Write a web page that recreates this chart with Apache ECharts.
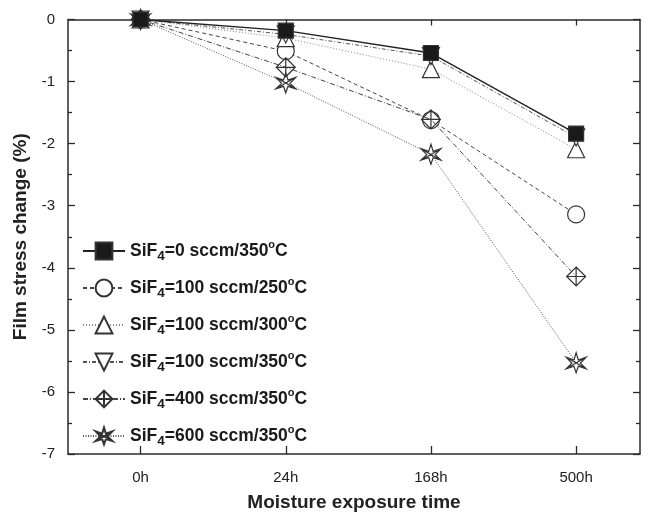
<!DOCTYPE html>
<html><head><meta charset="utf-8">
<script src="https://cdn.jsdelivr.net/npm/echarts@6/dist/echarts.min.js"></script>
<style>html,body{margin:0;padding:0;background:#fff}#c{width:653px;height:517px}</style>
</head><body><div id="c"></div>
<script>
const categories = ['0h', '24h', '168h', '500h'];
const seriesNames = ['SiF4=0 sccm/350°C', 'SiF4=100 sccm/250°C', 'SiF4=100 sccm/300°C', 'SiF4=100 sccm/350°C', 'SiF4=400 sccm/350°C', 'SiF4=600 sccm/350°C'];
const s0 = [0, -0.18, -0.54, -1.84];
const s100_250 = [0, -0.51, -1.62, -3.14];
const s100_300 = [0, -0.30, -0.80, -2.09];
const s100_350 = [0, -0.24, -0.59, -1.90];
const s400 = [0, -0.77, -1.61, -4.14];
const s600 = [0, -1.02, -2.17, -5.53];
const yTicks = [0, -1, -2, -3, -4, -5, -6, -7];

const dataSets = [s0, s100_250, s100_300, s100_350, s400, s600];
const INK = '#2b2b2b';
const styles = [
  {symbol: 'rect', size: 15, fill: '#1a1a1a', line: {color: '#222', width: 1.4, type: 'solid'}, z: 10},
  {symbol: 'circle', size: 17, fill: '#fff', line: {color: '#444', width: 1, type: [4, 3]}, z: 3},
  {symbol: 'triangle', size: 17, fill: '#fff', line: {color: '#888', width: 1, type: [1, 2]}, z: 4},
  {symbol: 'path://M-1,-0.9L1,-0.9L0,0.9Z', size: 17, fill: '#fff', line: {color: '#555', width: 1, type: [4, 2, 1, 2]}, z: 5},
  {symbol: 'path://M0,-1L1,0L0,1L-1,0Z M0,-1L0,1 M-1,0L1,0', size: 19, fill: 'rgba(255,255,255,0)', line: {color: '#444', width: 1, type: [5, 2, 1, 2]}, z: 6},
  {symbol: 'path://M0,-1L0.2,-0.28L0.9,-0.55L0.38,0.05L0.9,0.6L0.2,0.35L0,1L-0.2,0.35L-0.9,0.6L-0.38,0.05L-0.9,-0.55L-0.2,-0.28Z M-0.9,-0.55L0.9,0.6 M0.9,-0.55L-0.9,0.6', size: 20, fill: 'rgba(255,255,255,0)', line: {color: '#555', width: 1, type: [1, 1.5]}, z: 7}
];

const series = dataSets.map((d, i) => ({
  name: seriesNames[i],
  type: 'line',
  data: d.map((v, j) => [j, v]),
  symbol: styles[i].symbol,
  symbolSize: styles[i].size,
  showAllSymbol: true,
  z: styles[i].z,
  lineStyle: styles[i].line,
  itemStyle: {color: styles[i].fill, borderColor: '#333', borderWidth: 1.2, opacity: 1},
  emphasis: {disabled: true},
  animation: false
}));

const FONT = '"Liberation Sans", Arial, sans-serif';
const axisLine = {show: true, onZero: false, lineStyle: {color: INK, width: 1.5}};
const chart = echarts.init(document.getElementById('c'), null, {renderer: 'canvas'});
chart.setOption({
  animation: false,
  backgroundColor: '#fff',
  grid: {left: 68, right: 13, top: 19.5, bottom: 59, containLabel: false},
  xAxis: [{
    type: 'value', min: -0.5, max: 3.44, position: 'bottom',
    axisLine: axisLine, splitLine: {show: false},
    axisTick: {show: true, inside: true, length: 8, customValues: [0, 1, 2, 3], lineStyle: {color: INK, width: 1.3}},
    axisLabel: {customValues: [0, 1, 2, 3], formatter: v => categories[Math.round(v)], color: '#222', fontSize: 15, fontFamily: FONT, margin: 16},
    name: 'Moisture exposure time', nameLocation: 'middle', nameGap: 39,
    nameTextStyle: {fontSize: 19, fontWeight: 'bold', color: '#222', fontFamily: FONT}
  }, {
    type: 'value', min: -0.5, max: 3.44, position: 'top',
    axisLine: axisLine, splitLine: {show: false},
    axisTick: {show: true, inside: true, length: 6, customValues: [0, 1, 2, 3], lineStyle: {color: INK, width: 1.3}},
    axisLabel: {show: false}
  }],
  yAxis: [{
    type: 'value', min: -7, max: 0, interval: 1, position: 'left',
    axisLine: axisLine, splitLine: {show: false},
    axisTick: {show: true, inside: true, length: 7, lineStyle: {color: INK, width: 1.3}},
    minorTick: {show: true, splitNumber: 2, length: 4, lineStyle: {color: INK, width: 1.3}},
    axisLabel: {color: '#222', fontSize: 15, fontFamily: FONT, margin: 13},
    name: 'Film stress change (%)', nameLocation: 'middle', nameGap: 37, nameRotate: 90,
    nameTextStyle: {fontSize: 19, fontWeight: 'bold', color: '#222', fontFamily: FONT}
  }, {
    type: 'value', min: -7, max: 0, interval: 1, position: 'right',
    axisLine: axisLine, splitLine: {show: false},
    axisTick: {show: true, inside: true, length: 7, lineStyle: {color: INK, width: 1.3}},
    minorTick: {show: true, splitNumber: 2, length: 4, lineStyle: {color: INK, width: 1.3}},
    axisLabel: {show: false}
  }],
  legend: {
    orient: 'vertical', left: 82, top: 239, padding: 0,
    itemWidth: 42, itemHeight: 21, itemGap: 13,
    data: seriesNames,
    formatter: name => {
      const m = name.match(/^SiF4(=.*)°C$/);
      return '{b|SiF}{sub|4}{b|' + m[1] + '}{sup|o}{b|C}';
    },
    textStyle: {
      fontFamily: FONT, color: '#1a1a1a', padding: [0, 0, 0, 0],
      rich: {
        b: {fontSize: 17.5, fontWeight: 'bold', fontFamily: FONT, color: '#1a1a1a', lineHeight: 24, verticalAlign: 'middle'},
        sub: {fontSize: 13.5, fontWeight: 'bold', fontFamily: FONT, color: '#1a1a1a', lineHeight: 14, verticalAlign: 'bottom', padding: [10, 0, 0, 0]},
        sup: {fontSize: 11, fontWeight: 'bold', fontFamily: FONT, color: '#1a1a1a', lineHeight: 11, verticalAlign: 'top', padding: [0, 0, 11, 0]}
      }
    },
    selectedMode: false
  },
  series: series
});
</script></body></html>
